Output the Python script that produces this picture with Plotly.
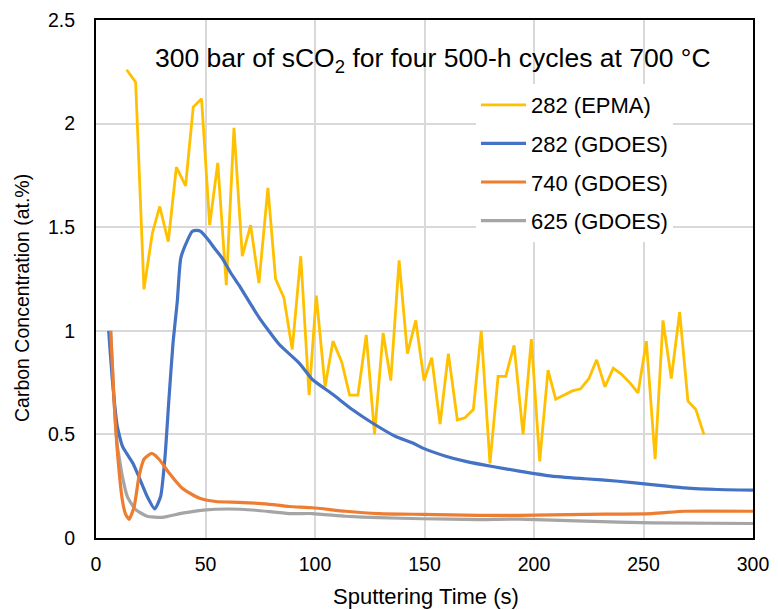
import plotly.graph_objects as go

# Sputtering time (s) and carbon concentration (at.%) for each measurement
epma_t = [14.0, 18.1, 21.9, 25.7, 29.1, 33.0, 36.7, 40.9, 44.4, 48.2, 51.9, 55.6, 59.5, 63.0,
          66.8, 70.6, 74.4, 78.5, 82.0, 85.8, 89.6, 93.5, 97.3, 100.6, 104.6, 108.2, 112.2,
          115.8, 119.6, 123.4, 127.2, 131.1, 134.6, 138.4, 142.2, 146.0, 149.8, 153.3, 157.1,
          160.9, 165.0, 168.5, 172.3, 175.9, 179.9, 183.6, 187.1, 190.9, 195.0, 198.8, 202.6,
          206.4, 209.9, 213.7, 217.5, 221.3, 225.1, 228.6, 232.4, 236.2, 240.0, 243.7, 247.5,
          251.3, 255.3, 258.9, 262.7, 266.5, 270.3, 273.9, 277.6]
epma_c = [2.26, 2.20, 1.20, 1.47, 1.60, 1.43, 1.79, 1.70, 2.08, 2.12, 1.51, 1.81, 1.22, 1.98,
          1.36, 1.51, 1.23, 1.69, 1.25, 1.16, 0.91, 1.36, 0.69, 1.17, 0.73, 0.95, 0.85,
          0.69, 0.69, 0.98, 0.50, 0.99, 0.76, 1.34, 0.89, 1.05, 0.76, 0.87, 0.55,
          0.89, 0.57, 0.58, 0.62, 1.00, 0.36, 0.78, 0.78, 0.93, 0.50, 0.96, 0.37,
          0.81, 0.67, 0.69, 0.71, 0.72, 0.77, 0.86, 0.73, 0.82, 0.79, 0.75, 0.70,
          0.95, 0.38, 1.05, 0.77, 1.09, 0.66, 0.62, 0.50]

gd282_t = [5.8, 7.5, 9.7, 12.0, 13.9, 16.9, 19.6, 23.4, 26.8, 29.5, 31.5, 33.3, 35.2, 37.1,
           38.7, 41.7, 44.0, 46.0, 47.8, 50.8, 54.0, 57.7, 61.5, 65.3, 70.0, 74.4, 83.6, 92.7,
           98.8, 107.9, 117.0, 126.2, 136.8, 144.4, 149.0, 159.7, 168.8, 181.0, 193.2, 208.1,
           223.3, 238.5, 253.7, 268.8, 284.0, 300.0]
gd282_c = [1.0, 0.76, 0.54, 0.445, 0.41, 0.36, 0.295, 0.20, 0.14, 0.20, 0.39, 0.67, 0.945, 1.14,
           1.35, 1.435, 1.48, 1.485, 1.48, 1.445, 1.40, 1.35, 1.28, 1.22, 1.14, 1.065, 0.935, 0.845,
           0.765, 0.695, 0.62, 0.555, 0.49, 0.46, 0.435, 0.395, 0.37, 0.345, 0.323, 0.299,
           0.286, 0.274, 0.258, 0.242, 0.234, 0.231]

gd740_t = [6.7, 8.2, 9.7, 12.0, 13.5, 15.1, 17.4, 19.6, 21.9, 25.4, 28.8, 33.3, 39.4, 47.0,
           54.7, 65.3, 77.5, 88.1, 98.8, 114.0, 129.2, 149.0, 174.9, 193.2, 223.3, 253.7,
           268.8, 300.0]
gd740_c = [1.0, 0.67, 0.425, 0.185, 0.115, 0.09, 0.15, 0.295, 0.38, 0.408, 0.38, 0.315, 0.24, 0.193,
           0.176, 0.172, 0.165, 0.152, 0.146, 0.129, 0.118, 0.114, 0.109, 0.109, 0.114, 0.118,
           0.129, 0.129]

gd625_t = [6.7, 8.2, 9.7, 10.5, 12.0, 14.3, 18.1, 23.4, 30.3, 39.4, 50.1, 60.7, 72.9, 88.1,
           98.8, 114.0, 129.2, 149.0, 174.9, 193.2, 223.3, 253.7, 300.0]
gd625_c = [1.0, 0.67, 0.445, 0.395, 0.30, 0.20, 0.137, 0.105, 0.10, 0.12, 0.136, 0.14, 0.134, 0.118,
           0.118, 0.105, 0.098, 0.093, 0.089, 0.091, 0.081, 0.073, 0.07]

FONT = "Liberation Sans, Arial, sans-serif"

W, H = 778, 610
ML, MR, MT, MB = 96, 25, 20, 72
PLOT_W = W - ML - MR
PLOT_H = H - MT - MB


def px_to_paper(px, py):
    """Page pixel position -> paper coordinates of the plot area."""
    return (px - ML) / PLOT_W, (H - MB - py) / PLOT_H


series = [
    # (name, t, c, color, width, legend rank, line shape)
    ("282 (EPMA)", epma_t, epma_c, "#FFC000", 2.8, 1, "linear"),
    ("625 (GDOES)", gd625_t, gd625_c, "#A5A5A5", 3.2, 4, "spline"),
    ("282 (GDOES)", gd282_t, gd282_c, "#4472C4", 3.2, 2, "spline"),
    ("740 (GDOES)", gd740_t, gd740_c, "#ED7D31", 3.2, 3, "spline"),
]

fig = go.Figure()
for name, t, c, color, w, rank, shape in series:
    fig.add_trace(go.Scatter(
        x=t, y=c, mode="lines", name=name,
        line=dict(color=color, width=w, shape=shape, smoothing=0.5),
        legendrank=rank, legendgroup=name,
    ))

title_x, title_y = px_to_paper(433, 60)
ylab_x, ylab_y = px_to_paper(22, 298)
xlab_x, xlab_y = px_to_paper(426, 597)
leg_x, leg_y = px_to_paper(476, 84)

fig.update_layout(
    width=W, height=H,
    margin=dict(l=ML, r=MR, t=MT, b=MB),
    paper_bgcolor="white", plot_bgcolor="white",
    font=dict(family=FONT, color="#000000", size=19),
    showlegend=True,
    legend=dict(
        x=leg_x, y=leg_y, xanchor="left", yanchor="top",
        bgcolor="white", borderwidth=0,
        font=dict(size=22, family=FONT),
        traceorder="grouped", tracegroupgap=7,
        itemwidth=45,
    ),
    annotations=[
        dict(
            text="300 bar of sCO<sub>2</sub> for four 500-h cycles at 700 °C",
            x=title_x, y=title_y, xref="paper", yref="paper",
            xanchor="center", yanchor="middle", showarrow=False,
            font=dict(size=26.5, family=FONT),
        ),
        dict(
            text="Carbon Concentration (at.%)", textangle=-90,
            x=ylab_x, y=ylab_y, xref="paper", yref="paper",
            xanchor="center", yanchor="middle",
            showarrow=False, font=dict(size=19.5, family=FONT),
        ),
        dict(
            text="Sputtering Time (s)",
            x=xlab_x, y=xlab_y, xref="paper", yref="paper",
            xanchor="center", yanchor="middle",
            showarrow=False, font=dict(size=22, family=FONT),
        ),
    ],
)

fig.update_xaxes(
    range=[0, 300], dtick=50, tick0=0, automargin=False,
    showgrid=True, gridcolor="#D9D9D9", gridwidth=1.5,
    showline=True, linecolor="#000000", linewidth=2, mirror=True,
    zeroline=False, ticks="", ticklabelstandoff=8,
    tickfont=dict(size=19.5),
)
fig.update_yaxes(
    range=[0, 2.5], dtick=0.5, tick0=0, automargin=False,
    showgrid=True, gridcolor="#D9D9D9", gridwidth=1.5,
    showline=True, linecolor="#000000", linewidth=2, mirror=True,
    zeroline=False, ticks="", ticklabelstandoff=15,
    tickfont=dict(size=19.5),
)

fig.write_html("out.html")
